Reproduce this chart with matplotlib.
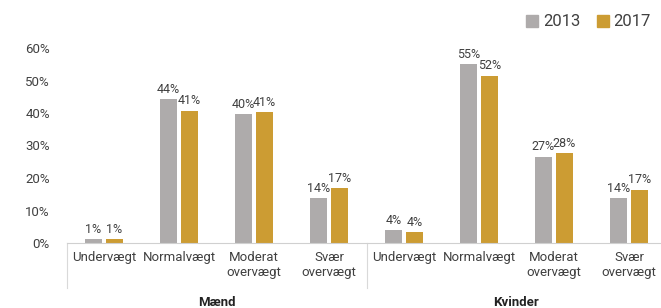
import matplotlib.pyplot as plt
import matplotlib.transforms as mtransforms
from matplotlib.patches import Patch
import numpy as np

plt.rcParams['font.family'] = ['Roboto', 'DejaVu Sans']

# data (andel i procent)
categories = ["Undervægt", "Normalvægt", "Moderat\novervægt", "Svær\novervægt",
              "Undervægt", "Normalvægt", "Moderat\novervægt", "Svær\novervægt"]
groups = ["Mænd", "Kvinder"]
v2013 = [1.2, 44.3, 39.6, 13.9, 4.0, 55.0, 26.6, 13.9]
v2017 = [1.3, 40.7, 40.3, 16.9, 3.4, 51.5, 27.7, 16.4]
lab2013 = ["1%", "44%", "40%", "14%", "4%", "55%", "27%", "14%"]
lab2017 = ["1%", "41%", "41%", "17%", "4%", "52%", "28%", "17%"]

c2013 = '#aeabab'
c2017 = '#cc9c33'
txt = '#404040'

fig = plt.figure(figsize=(6.61, 3.08), dpi=100)
ax = fig.add_axes([66.5 / 661, 65 / 308, 600 / 661, 195 / 308])

x = np.arange(len(categories))
w = 0.22
off = 0.14
b1 = ax.bar(x - off, v2013, w, color=c2013)
b2 = ax.bar(x + off, v2017, w, color=c2017)

for bars, labs in ((b1, lab2013), (b2, lab2017)):
    for b, l in zip(bars, labs):
        ax.text(b.get_x() + b.get_width() / 2, b.get_height() + 1.0, l,
                ha='center', va='bottom', fontsize=9, color=txt, clip_on=False)

ax.set_xlim(-0.5, 7.5)
ax.set_ylim(0, 60)
ax.set_yticks(np.arange(0, 61, 10))
ax.set_yticklabels([f"{t}%" for t in range(0, 61, 10)], fontsize=9.5, color=txt)
ax.tick_params(axis='y', length=0, pad=12)
ax.set_xticks([])
for s in ['top', 'right', 'left']:
    ax.spines[s].set_visible(False)
ax.spines['bottom'].set_color('#d0d0d0')

trans = mtransforms.blended_transform_factory(ax.transData, ax.transAxes)
h = ax.get_position().height * 308  # axes height in px
def py(p):
    # pixels below the baseline -> axes fraction
    return -p / h

for i, c in enumerate(categories):
    ax.text(i, py(8), c, transform=trans, ha='center', va='top',
            fontsize=9.5, color=txt, linespacing=1.2)

for xs in (-0.5, 3.5, 7.5):
    ax.plot([xs, xs], [0, py(45)], transform=trans, color='#d9d9d9',
            lw=0.8, clip_on=False)

for g, xc in zip(groups, (1.5, 5.5)):
    ax.text(xc, py(53), g, transform=trans, ha='center', va='top',
            fontsize=9.5, fontweight='bold', color='#222222')

handles = [Patch(color=c2013, label='2013'), Patch(color=c2017, label='2017')]
fig.legend(handles=handles, loc='center right', bbox_to_anchor=(1.0, 1 - 22 / 308),
           ncol=2, frameon=False, fontsize=12, handlelength=0.7, handleheight=0.7,
           handletextpad=0.3, columnspacing=1.0, borderaxespad=0.2,
           labelcolor=txt)

fig.savefig('out.png', dpi=100)
